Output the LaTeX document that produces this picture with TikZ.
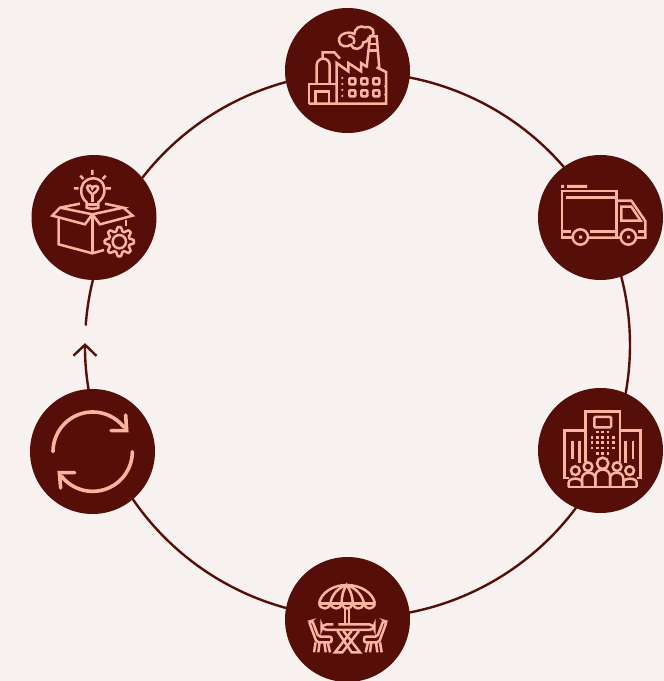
\documentclass[tikz,border=0pt]{standalone}
\usetikzlibrary{arrows.meta}
\definecolor{bgc}{RGB}{247,242,240}
\definecolor{darkc}{RGB}{86,15,8}
\definecolor{icoc}{RGB}{250,180,160}
\tikzset{
  stagenode/.style={circle,fill=darkc,minimum size=125pt,inner sep=0pt,outer sep=0pt},
  ringline/.style={draw=darkc,line width=2.4pt},
  ico/.style={x=0.33333pt,y=-0.33333pt,draw=icoc,line width=2.5pt,line join=miter},
  icofill/.style={fill=icoc,draw=none},
}
\begin{document}
\begin{tikzpicture}[x=1pt,y=1pt]
\useasboundingbox[fill=bgc] (0,0) rectangle (664,681);
\coordinate (ringc) at (357.5,336);
% ring
\draw[ringline] ([shift={(154:272.5)}]ringc) arc (154:92:272.5);
\draw[ringline] ([shift={(92:272.5)}]ringc) arc (92:27.7:272.5);
\draw[ringline] ([shift={(27.7:272.5)}]ringc) arc (27.7:-23.5:272.5);
\draw[ringline] ([shift={(-23.5:272.5)}]ringc) arc (-23.5:-92:272.5);
\draw[ringline] ([shift={(-92:272.5)}]ringc) arc (-92:-158:272.5);
\draw[ringline,-{Straight Barb[length=11pt,width=23pt,line width=2.4pt]}] ([shift={(202:272.5)}]ringc) arc (202:179.6:272.5);
\draw[ringline] ([shift={(175.9:272.5)}]ringc) arc (175.9:154:272.5);
% nodes
\node[stagenode] (factory) at (347.5,610.5) {};
\node[stagenode] (truck) at (600.5,463.5) {};
\node[stagenode] (hotel) at (600.5,230.5) {};
\node[stagenode] (terrace) at (347.5,61.5) {};
\node[stagenode] (cycle) at (92.5,229.5) {};
\node[stagenode] (idea) at (94,463.5) {};

% factory icon
\begin{scope}[shift={(285,673)},ico]
\draw (72,287) -- (72,228) -- (155,228);
\draw (72,287) -- (303,287) -- (303,192) -- (275,178);
\draw (92,287) -- (92,250) -- (132,250) -- (132,287);
\draw (155,287) -- (155,165) -- (190,190) -- (190,165) -- (228,190) -- (228,165) -- (248,178);
\draw (95,228) -- (95,172) .. controls (95,157) and (108,152) .. (114,152) .. controls (126,152) and (134,160) .. (134,172) -- (134,228);
\draw (113,152) -- (113,133) -- (148,133) -- (165,152);
\draw (245,178) -- (255,85) -- (275,85) -- (283,180);
\draw (252,108) -- (278,108) (250,128) -- (280,128);
\draw (258,85) .. controls (275,75) and (262,52) .. (240,58) .. controls (225,50) and (208,62) .. (208,78) .. controls (190,68) and (160,78) .. (162,98) .. controls (163,115) and (185,120) .. (198,110) .. controls (202,128) and (232,128) .. (235,103) .. controls (245,103) and (250,95) .. (252,88);
\draw (190,84) .. controls (205,84) and (212,95) .. (205,108);
\foreach \xx in {202,238,274} \foreach \yy in {220,256}
  \draw[rounded corners=0.8pt] (\xx-9,\yy-9) rectangle (\xx+9,\yy+9);
\foreach \yy in {210,228,246,264} \fill[icoc] (172,\yy) circle (3.5);
\foreach \yy in {235,260} \fill[icoc] (300,\yy) circle (3);
\end{scope}

% truck icon
\begin{scope}[shift={(538,526)},ico]
\path[icofill] (69,90) rectangle (78,99) (87,90) rectangle (147,99);
\draw (104,248) -- (72,248) -- (72,108) -- (236,108) -- (236,248);
\draw (150,248) -- (248,248) (294,248) -- (322,248) -- (322,198) -- (280,137) -- (236,137);
\draw (84,127) -- (230,127);
\draw (72,230) -- (100,230) (155,230) -- (236,230) (300,230) -- (322,230);
\draw (250,155) -- (280,155) -- (308,197) -- (250,197) -- cycle;
\draw (127,246) circle (23) (271,246) circle (23);
\path[icofill] (123,242) rectangle (132,251) (267,242) rectangle (276,251);
\end{scope}

% hotel icon
\begin{scope}[shift={(538,293)},ico]
\draw (142,222) -- (142,70) -- (246,70) -- (246,222);
\draw[rounded corners=1pt] (169,87) rectangle (219,118);
\draw (142,128) -- (80,128) -- (80,270) -- (92,270);
\draw (246,128) -- (308,128) -- (308,270) -- (296,270);
\draw (103,158) -- (103,212) (125,158) -- (125,225) (263,158) -- (263,225) (285,158) -- (285,212);
\foreach \xx in {178,194,210} \path[icofill] (\xx-4,128) rectangle (\xx+4,136);
\foreach \yy in {144,160,176} \foreach \xx in {162,178,194,210,226}
  \path[icofill] (\xx-4,\yy) rectangle (\xx+4,\yy+8);
\foreach \xx in {178,194,210} \path[icofill] (\xx-4,192) rectangle (\xx+4,200);
\draw (112,248) circle (13) (150,236) circle (13) (194,226) circle (17) (237,236) circle (13) (275,248) circle (13);
\draw (90,297) -- (298,297);
\draw (92,297) -- (92,284) .. controls (92,268) and (132,268) .. (132,284) -- (132,297);
\draw (132,297) -- (132,272) .. controls (132,248) and (172,248) .. (172,272) -- (172,297);
\draw (172,297) -- (172,265) .. controls (172,238) and (216,238) .. (216,265) -- (216,297);
\draw (216,297) -- (216,272) .. controls (216,248) and (256,248) .. (256,272) -- (256,297);
\draw (256,297) -- (256,284) .. controls (256,268) and (296,268) .. (296,284) -- (296,297);
\end{scope}

% terrace icon
\begin{scope}[shift={(285,126)},ico]
\draw (102,146) .. controls (108,112) and (145,90) .. (185,90) .. controls (225,90) and (264,112) .. (270,146);
\draw (102,146) -- (270,146);
\draw (102,146) .. controls (108,165) and (132,165) .. (136,146) .. controls (142,165) and (166,165) .. (170,146) .. controls (176,165) and (198,165) .. (203,146) .. controls (208,165) and (232,165) .. (237,146) .. controls (242,165) and (264,165) .. (270,146);
\draw (136,146) .. controls (140,118) and (160,98) .. (185,90) .. controls (210,98) and (232,118) .. (237,146);
\draw (170,146) .. controls (170,120) and (175,105) .. (185,90) .. controls (195,105) and (203,120) .. (203,146);
\draw (180,160) -- (180,205) (192,160) -- (192,205);
\draw[rounded corners=5pt] (145,208) -- (110,208) -- (110,225) -- (268,225) -- (268,208) -- (160,208);
\draw (222,228) -- (172,292) -- (150,292) -- (200,228);
\draw (157,228) -- (200,292) -- (225,292) -- (175,228);
% left chair
\draw[rounded corners=2pt] (72,200) -- (82,197) -- (100,245) -- (140,245) -- (140,262) -- (95,262) -- cycle;
\draw (92,262) -- (87,292) (128,262) -- (135,292) (104,262) -- (100,292) (118,262) -- (122,292);
% right chair
\draw[rounded corners=2pt] (305,200) -- (295,197) -- (277,245) -- (237,245) -- (237,262) -- (282,262) -- cycle;
\draw (285,262) -- (290,292) (249,262) -- (242,292) (273,262) -- (277,292) (259,262) -- (255,292);
\end{scope}

% cycle icon
\begin{scope}[shift={(30,292)},ico]
\begin{scope}[line width=3.6pt,line cap=round]
\draw plot[domain=180:322,samples=40,smooth] ({188+119*cos(\x)},{188+119*sin(\x)});
\draw plot[domain=0:142,samples=40,smooth] ({188+119*cos(\x)},{188+119*sin(\x)});
\draw (243,125) -- (290,125) -- (287,78);
\draw (134,251) -- (88,251) -- (92,297);
\end{scope}
\end{scope}

% idea icon
\begin{scope}[shift={(30,526)},ico]
\draw (170,142) .. controls (150,125) and (150,100) .. (160,85) .. controls (175,65) and (205,65) .. (218,85) .. controls (228,102) and (225,125) .. (205,142) -- (205,158) .. controls (205,162) and (170,162) .. (170,158) -- cycle;
\draw (170,148) -- (205,148);
\draw (187,120) -- (187,142);
\draw (187,118) .. controls (165,100) and (170,90) .. (180,92) .. controls (185,93) and (187,97) .. (187,100) .. controls (187,97) and (192,92) .. (198,93) .. controls (208,95) and (208,105) .. (187,118);
\draw (187,45) -- (187,60) (151,62) -- (160,72) (227,62) -- (218,72) (132,100) -- (146,100) (228,100) -- (243,100);
% box
\draw (150,146) -- (90,158) -- (67,182) -- (165,208) -- (187,178) -- (90,158);
\draw (225,146) -- (280,158) -- (187,178) -- (210,208) -- (308,182) -- (280,158);
\draw (86,190) -- (86,268) -- (187,295) -- (222,285);
\draw (187,178) -- (187,295);
\draw (288,195) -- (288,212);
% gear
\draw (268,260) circle (20);
\draw[line join=round] plot[samples=65,domain=0:360,smooth] ({268+(38+6*sign(cos(8*\x)))*cos(\x)},{260+(38+6*sign(cos(8*\x)))*sin(\x)}) -- cycle;
\end{scope}
\end{tikzpicture}
\end{document}
